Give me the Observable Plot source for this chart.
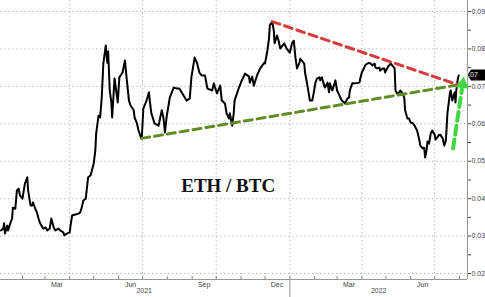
<!DOCTYPE html>
<html>
<head>
<meta charset="utf-8">
<script src="https://cdn.jsdelivr.net/npm/d3@7"></script>
<script src="https://cdn.jsdelivr.net/npm/@observablehq/plot@0.6"></script>
<style>
  html, body { margin: 0; padding: 0; background: #fff; }
  #chart { width: 485px; height: 297px; overflow: hidden; }
</style>
</head>
<body>
<div id="chart"></div>
<script>
// ---- Data (ETH/BTC ratio) ----
const dates = [
"2021-01-05","2021-01-08","2021-01-09","2021-01-10","2021-01-13","2021-01-14","2021-01-17","2021-01-19","2021-01-20","2021-01-23",
"2021-01-25","2021-01-27","2021-01-29","2021-02-01","2021-02-02","2021-02-04","2021-02-07","2021-02-08","2021-02-11","2021-02-13",
"2021-02-14","2021-02-17","2021-02-19","2021-02-21","2021-02-23","2021-02-26","2021-02-27","2021-03-02","2021-03-04","2021-03-07",
"2021-03-09","2021-03-12","2021-03-14","2021-03-18","2021-03-20","2021-03-24","2021-03-25","2021-03-29","2021-04-01","2021-04-02",
"2021-04-04","2021-04-07","2021-04-12","2021-04-14","2021-04-16","2021-04-18","2021-04-21","2021-04-24","2021-04-27","2021-05-01",
"2021-05-03","2021-05-04","2021-05-07","2021-05-09","2021-05-11","2021-05-13","2021-05-16","2021-05-18","2021-05-19","2021-05-21",
"2021-05-23","2021-05-24","2021-05-27","2021-05-31","2021-06-02","2021-06-06","2021-06-09","2021-06-11","2021-06-14","2021-06-16",
"2021-06-20","2021-06-21","2021-06-24","2021-06-26","2021-06-29","2021-06-30","2021-07-02","2021-07-06","2021-07-09","2021-07-10",
"2021-07-12","2021-07-16","2021-07-21","2021-07-25","2021-07-27","2021-07-29","2021-07-31","2021-08-04","2021-08-09","2021-08-13",
"2021-08-16","2021-08-21","2021-08-25","2021-08-29","2021-08-31","2021-09-04","2021-09-07","2021-09-10","2021-09-13","2021-09-17",
"2021-09-20","2021-09-26","2021-09-28","2021-10-02","2021-10-06","2021-10-08","2021-10-12","2021-10-14","2021-10-17","2021-10-18",
"2021-10-21","2021-10-23","2021-10-24","2021-10-29","2021-11-02","2021-11-06","2021-11-11","2021-11-12","2021-11-15","2021-11-17",
"2021-11-21","2021-11-25","2021-11-30","2021-12-01","2021-12-04","2021-12-06","2021-12-07","2021-12-10","2021-12-12","2021-12-13",
"2021-12-16","2021-12-18","2021-12-20","2021-12-25","2021-12-28","2022-01-01","2022-01-04","2022-01-06","2022-01-08","2022-01-10",
"2022-01-13","2022-01-14","2022-01-16","2022-01-19","2022-01-20","2022-01-23","2022-01-25","2022-01-26","2022-01-29","2022-01-31",
"2022-02-02","2022-02-04","2022-02-07","2022-02-08","2022-02-10","2022-02-13","2022-02-14","2022-02-17","2022-02-19","2022-02-20",
"2022-02-23","2022-02-25","2022-02-27","2022-03-01","2022-03-04","2022-03-05","2022-03-07","2022-03-10","2022-03-11","2022-03-14",
"2022-03-16","2022-03-17","2022-03-20","2022-03-24","2022-03-29","2022-03-30","2022-04-01","2022-04-04","2022-04-05","2022-04-08",
"2022-04-10","2022-04-12","2022-04-14","2022-04-17","2022-04-18","2022-04-20","2022-04-23","2022-04-24","2022-04-27","2022-04-29",
"2022-04-30","2022-05-03","2022-05-05","2022-05-07","2022-05-09","2022-05-12","2022-05-13","2022-05-15","2022-05-18","2022-05-19",
"2022-05-22","2022-05-24","2022-05-25","2022-05-28","2022-05-30","2022-06-01","2022-06-03","2022-06-06","2022-06-07","2022-06-09",
"2022-06-12","2022-06-13","2022-06-16","2022-06-18","2022-06-19","2022-06-21","2022-06-22","2022-06-24","2022-06-26","2022-06-28",
"2022-07-01","2022-07-02","2022-07-05","2022-07-07","2022-07-08","2022-07-11","2022-07-13","2022-07-15","2022-07-17","2022-07-20",
"2022-07-21","2022-07-23","2022-07-26","2022-07-27","2022-07-28","2022-07-30","2022-07-31"
];
const values = [
0.0315,0.0320,0.0334,0.0307,0.0328,0.0315,0.0336,0.0347,0.0376,0.0373,
0.0422,0.0427,0.0408,0.0400,0.0414,0.0440,0.0457,0.0422,0.0382,0.0382,
0.0390,0.0373,0.0363,0.0347,0.0334,0.0323,0.0320,0.0323,0.0315,0.0320,
0.0347,0.0323,0.0315,0.0320,0.0315,0.0310,0.0302,0.0307,0.0310,0.0328,
0.0355,0.0357,0.0360,0.0363,0.0376,0.0395,0.0400,0.0457,0.0462,0.0494,
0.0529,0.0574,0.0622,0.0617,0.0670,0.0761,0.0809,0.0763,0.0793,0.0689,
0.0657,0.0617,0.0721,0.0657,0.0724,0.0737,0.0769,0.0724,0.0662,0.0649,
0.0636,0.0617,0.0601,0.0582,0.0563,0.0561,0.0641,0.0662,0.0684,0.0662,
0.0628,0.0601,0.0595,0.0636,0.0617,0.0577,0.0617,0.0670,0.0697,0.0694,
0.0694,0.0676,0.0662,0.0668,0.0724,0.0777,0.0763,0.0737,0.0729,0.0729,
0.0694,0.0689,0.0708,0.0681,0.0702,0.0662,0.0654,0.0628,0.0614,0.0628,
0.0595,0.0630,0.0662,0.0694,0.0716,0.0734,0.0726,0.0710,0.0726,0.0702,
0.0729,0.0748,0.0763,0.0761,0.0796,0.0828,0.0863,0.0873,0.0849,0.0815,
0.0836,0.0822,0.0801,0.0815,0.0801,0.0790,0.0817,0.0822,0.0777,0.0748,
0.0763,0.0774,0.0769,0.0761,0.0737,0.0702,0.0676,0.0662,0.0662,0.0684,
0.0710,0.0721,0.0724,0.0716,0.0724,0.0702,0.0697,0.0710,0.0684,0.0708,
0.0689,0.0702,0.0716,0.0689,0.0676,0.0670,0.0662,0.0657,0.0654,0.0668,
0.0670,0.0689,0.0708,0.0708,0.0710,0.0721,0.0737,0.0750,0.0756,0.0761,
0.0763,0.0761,0.0756,0.0761,0.0750,0.0748,0.0750,0.0742,0.0748,0.0748,
0.0737,0.0750,0.0756,0.0761,0.0756,0.0748,0.0689,0.0681,0.0684,0.0689,
0.0681,0.0670,0.0636,0.0614,0.0614,0.0603,0.0603,0.0595,0.0590,0.0582,
0.0555,0.0542,0.0534,0.0536,0.0510,0.0531,0.0553,0.0547,0.0574,0.0582,
0.0571,0.0558,0.0566,0.0571,0.0571,0.0561,0.0542,0.0555,0.0630,0.0681,
0.0689,0.0662,0.0684,0.0657,0.0689,0.0721,0.0729
];

// Trend-line annotations
const redTrendDates = ["2021-12-10", "2022-08-05"];
const redTrendValues = [0.0873, 0.0700];
const greenTrendDates = ["2021-06-30", "2022-08-05"];
const greenTrendValues = [0.0561, 0.0706];
const arrowDates = ["2022-07-24", "2022-08-04"];
const arrowValues = [0.0534, 0.0692];
const arrowHeadDate = "2022-08-05";
const arrowHeadValue = 0.0706;

// Axis ticks
const xDomain = ["2021-01-04T12:00Z", "2022-08-11"];
const yDomain = [0.0184, 0.09294];
const yGridValues = [0.02, 0.03, 0.04, 0.05, 0.06, 0.07, 0.08, 0.09];
const yTickValues = [0.02, 0.025, 0.03, 0.035, 0.04, 0.045, 0.05, 0.055, 0.06, 0.065, 0.07, 0.075, 0.08, 0.085, 0.09];
const quarterStarts = ["2021-04-01", "2021-07-01", "2021-10-01", "2022-01-01", "2022-04-01", "2022-07-01"];
const monthStarts = ["2021-02-01","2021-03-01","2021-04-01","2021-05-01","2021-06-01","2021-07-01","2021-08-01","2021-09-01","2021-10-01","2021-11-01","2021-12-01","2022-01-01","2022-02-01","2022-03-01","2022-04-01","2022-05-01","2022-06-01","2022-07-01","2022-08-01"];
const monthLabelDates = ["2021-03-16", "2021-06-16", "2021-09-16", "2021-12-16", "2022-03-16", "2022-06-16"];
const monthLabels = ["Mar", "Jun", "Sep", "Dec", "Mar", "Jun"];
const yearLabelDates = ["2021-07-03", "2022-04-22"];
const yearLabels = ["2021", "2022"];
const yearDivider = ["2022-01-01"];
const titleText = "ETH / BTC";

// ---- Build ----
const P = d => new Date(d.length <= 10 ? d + "T00:00Z" : d);
const series = dates.map((d, i) => ({date: P(d), value: values[i]}));
const red = redTrendDates.map((d, i) => ({date: P(d), value: redTrendValues[i]}));
const green = greenTrendDates.map((d, i) => ({date: P(d), value: greenTrendValues[i]}));
const arrow = arrowDates.map((d, i) => ({date: P(d), value: arrowValues[i]}));
const monthLabelMap = new Map(monthLabelDates.map((d, i) => [+P(d), monthLabels[i]]));

const chart = Plot.plot({
  width: 485,
  height: 297,
  marginLeft: 0,
  marginRight: 18,
  marginTop: 0,
  marginBottom: 18,
  style: {fontFamily: "'Liberation Sans', Arial, sans-serif", fontSize: "7px", color: "#444", background: "#fff"},
  x: {
    type: "utc",
    domain: xDomain.map(P),
    ticks: monthLabelDates.map(P),
    tickFormat: d => monthLabelMap.get(+d) || "",
    tickSize: 0,
    tickPadding: 3,
    label: null
  },
  y: {
    domain: yDomain,
    axis: "right",
    ticks: yTickValues,
    tickFormat: d => (Math.round(d * 1000) % 10 === 0 ? d3.format(".2f")(d) : ""),
    tickSize: 3,
    tickPadding: 1,
    label: null
  },
  marks: [
    Plot.ruleY(yGridValues, {stroke: "#bdbdbd", strokeDasharray: "1.5,2.5", strokeWidth: 1}),
    Plot.ruleX(quarterStarts.map(P), {stroke: "#bdbdbd", strokeDasharray: "1.5,2.5", strokeWidth: 1}),
    Plot.ruleX(monthStarts.map(P), {insetTop: 276, stroke: "#888", strokeWidth: 1}),
    Plot.ruleX(yearDivider.map(P), {insetTop: 279, insetBottom: -18, stroke: "#999", strokeWidth: 1}),
    Plot.ruleY([yDomain[0]], {stroke: "#999", strokeWidth: 1}),
    Plot.ruleX([P(xDomain[1])], {stroke: "#999", strokeWidth: 1}),
    Plot.text(yearLabels, {x: (d, i) => P(yearLabelDates[i]), frameAnchor: "bottom", dy: 13, fill: "#444", fontSize: 7}),
    Plot.line(series, {x: "date", y: "value", stroke: "#000", strokeWidth: 2, strokeLinejoin: "round"}),
    Plot.line(green, {x: "date", y: "value", stroke: "#5f8c23", strokeWidth: 3, strokeDasharray: "8,5"}),
    Plot.line(red, {x: "date", y: "value", stroke: "#d93a3a", strokeWidth: 3, strokeDasharray: "8,5"}),
    Plot.line(arrow, {x: "date", y: "value", stroke: "#3fd83f", strokeWidth: 4, strokeDasharray: "9,5"}),
    Plot.dot([0], {x: () => P(arrowHeadDate), y: () => arrowHeadValue, symbol: "triangle", r: 4, fill: "#3fd83f", stroke: "#3fd83f", rotate: 7}),
    Plot.text([titleText], {x: () => P("2021-10-16"), y: () => 0.0435, fontFamily: "'Liberation Serif', 'Times New Roman', serif", fontWeight: "bold", fontSize: 19, fill: "#111"})
  ]
});

// Last-value tag on the right axis, positioned through the plot's own scales
const last = series[series.length - 1];
const ys = chart.scale("y").apply(last.value);
const svg = d3.select(chart);
const g = svg.append("g");
g.append("path")
  .attr("d", `M467.5,${ys} L471,${ys - 5.5} L485,${ys - 5.5} L485,${ys + 5.5} L471,${ys + 5.5} Z`)
  .attr("fill", "#000");
g.append("text")
  .attr("x", 471).attr("y", ys).attr("dy", "0.35em")
  .attr("fill", "#fff").attr("font-size", 7)
  .attr("font-family", "'Liberation Sans', Arial, sans-serif")
  .text(d3.format(".2f")(last.value));

document.getElementById("chart").appendChild(chart);
</script>
</body>
</html>
